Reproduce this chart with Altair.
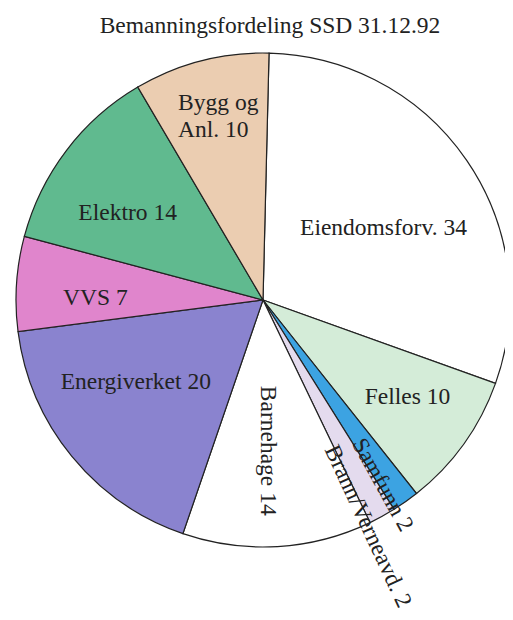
import math
import altair as alt
import pandas as pd

# ---- data ----
categories = ["Eiendomsforv.", "Felles", "Samfunn", "Brann/Verneavd.", "Barnehage",
              "Energiverket", "VVS", "Elektro", "Bygg og Anl."]
values = [34, 10, 2, 2, 14, 20, 7, 14, 10]
labels = ["Eiendomsforv. 34", "Felles 10", "Samfunn 2", "Brann/Verneavd. 2", "Barnehage 14",
          "Energiverket 20", "VVS 7", "Elektro 14", "Bygg og\nAnl. 10"]
colors = ["#ffffff", "#d4ecd8", "#3ca3e2", "#e4dbee", "#ffffff",
          "#8a83cf", "#e085cc", "#60ba8f", "#ebcdb1"]
title_text = "Bemanningsfordeling SSD 31.12.92"

df = pd.DataFrame({"cat": categories, "value": values, "label": labels,
                   "idx": list(range(len(categories)))})
total = sum(values)

# ---- layout / style ----
W, H = 497, 604
CX, CY, R = 255, 292, 247
OFF = math.radians(1.4)
FONT = "Liberation Serif"
FS = 23.5

# label style: radius, dx, dy, angle, align
label_style = {
    "Eiendomsforv.": (140, 5, 7, 0, "center"),
    "Felles": (174, 3, -4, 0, "center"),
    "Samfunn": (220, 1, 9, 61, "center"),
    "Brann/Verneavd.": (258, -8, 18, 65, "center"),
    "Barnehage": (151, 0, 4, 90, "center"),
    "Energiverket": (150, -11, -13, 0, "center"),
    "VVS": (167, -1, 9, 0, "center"),
    "Elektro": (160, -8, 10, 0, "center"),
    "Bygg og Anl.": (199, -35, -4, 0, "left"),
}

theta_scale = alt.Scale(domain=[0, total], range=[OFF, OFF + 2 * math.pi])

base = alt.Chart(df)

pie = base.mark_arc(outerRadius=R, stroke="#222222", strokeWidth=1.2).encode(
    theta=alt.Theta("value:Q", stack=True, scale=theta_scale),
    order=alt.Order("idx:Q"),
    color=alt.Color("cat:N", scale=alt.Scale(domain=categories, range=colors), legend=None),
    x=alt.value(CX),
    y=alt.value(CY),
)

layers = [pie]
for c in categories:
    r, dx, dy, ang, al = label_style[c]
    t = base.mark_text(
        radius=r, dx=dx, dy=dy, angle=ang, align=al, baseline="middle",
        font=FONT, fontSize=FS, color="#222222", lineBreak="\n", lineHeight=27,
    ).encode(
        theta=alt.Theta("value:Q", stack=True, scale=theta_scale),
        order=alt.Order("idx:Q"),
        text=alt.condition(f"datum.cat === '{c}'", alt.Text("label:N"), alt.value("")),
        x=alt.value(CX),
        y=alt.value(CY),
    )
    layers.append(t)

title = alt.Chart(pd.DataFrame({"t": [title_text]})).mark_text(
    font=FONT, fontSize=FS, color="#222222", align="center", baseline="alphabetic"
).encode(text="t:N", x=alt.value(262), y=alt.value(25))
layers.append(title)

chart = alt.layer(*layers).properties(
    width=W, height=H, autosize=alt.AutoSizeParams(type="none"), padding=0
).configure_view(stroke=None)

chart.save("out.html", embed_options={"renderer": "svg", "actions": False})
